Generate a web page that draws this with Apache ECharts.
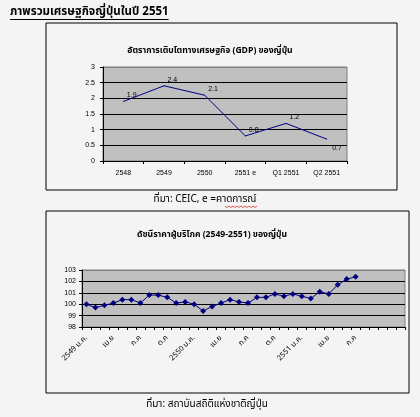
<!DOCTYPE html>
<html>
<head>
<meta charset="utf-8">
<script src="https://cdn.jsdelivr.net/npm/echarts@6/dist/echarts.min.js"></script>
<style>
html,body{margin:0;padding:0;background:#f4f4f4;}
#c{width:420px;height:417px;}
</style>
</head>
<body>
<div id="c"></div>
<script>
// ---- data ----
var mainTitle = 'ภาพรวมเศรษฐกิจญี่ปุ่นในปี 2551';
var gdpTitle = 'อัตราการเติบโตทางเศรษฐกิจ (GDP) ของญี่ปุ่น';
var gdpSource = 'ที่มา: CEIC, e =คาดการณ์';
var gdpCategories = ['2548', '2549', '2550', '2551 e', 'Q1 2551', 'Q2 2551'];
var gdpValues = [1.9, 2.4, 2.1, 0.8, 1.2, 0.7];
var cpiTitle = 'ดัชนีราคาผู้บริโภค (2549-2551) ของญี่ปุ่น';
var cpiSource = 'ที่มา: สถาบันสถิติแห่งชาติญี่ปุ่น';
var cpiYears = ['2549', '2550', '2551'];
var cpiMonths = ['ม.ค.', 'ก.พ.', 'มี.ค.', 'เม.ย', 'พ.ค.', 'มิ.ย.', 'ก.ค', 'ส.ค.', 'ก.ย.', 'ต.ค', 'พ.ย.', 'ธ.ค.'];
var cpiValues = [100.0, 99.7, 99.9, 100.1, 100.4, 100.4, 100.1, 100.8, 100.8, 100.6,
                 100.1, 100.2, 100.0, 99.4, 99.8, 100.1, 100.4, 100.2, 100.1, 100.6,
                 100.6, 100.9, 100.7, 100.9, 100.7, 100.5, 101.1, 100.9, 101.7, 102.2, 102.4];

var cpiCategories = [];
cpiYears.forEach(function (y) {
  cpiMonths.forEach(function (m, i) { cpiCategories.push(i === 0 ? y + ' ' + m : m); });
});

var thaiFont = 'Tahoma, "Noto Sans Thai", "Noto Sans", "DejaVu Sans", sans-serif';
var numFont = '"Liberation Sans", Arial, sans-serif';
var navy = '#000080';

var chart = echarts.init(document.getElementById('c'), null, {renderer: 'canvas'});

// underline width for main title
var cv = document.createElement('canvas').getContext('2d');
cv.font = 'bold 11.5px ' + thaiFont;
var mtW = cv.measureText(mainTitle).width;

// squiggle under "คาดการณ์"
var sq = [];
for (var k = 0; k <= 16; k++) sq.push([225 + k * 2, 206 + (k % 2 ? 1.5 : 0)]);

var axisLabelStyle = {color: '#000', fontSize: 7, fontFamily: numFont};

chart.setOption({
  backgroundColor: '#f4f4f4',
  animation: false,
  grid: [
    {left: 103, top: 67, width: 244, height: 94, show: true, backgroundColor: '#c0c0c0', borderColor: '#808080', borderWidth: 1},
    {left: 82, top: 270, width: 323, height: 57, show: true, backgroundColor: '#c0c0c0', borderColor: '#808080', borderWidth: 1}
  ],
  xAxis: [
    {
      gridIndex: 0, type: 'category', data: gdpCategories, boundaryGap: true,
      axisLine: {lineStyle: {color: '#000', width: 1}},
      axisTick: {show: true, length: 3, lineStyle: {color: '#000'}},
      axisLabel: Object.assign({margin: 9}, axisLabelStyle),
      splitLine: {show: false}
    },
    {
      gridIndex: 1, type: 'category', data: cpiCategories, boundaryGap: true,
      axisLine: {lineStyle: {color: '#000', width: 1}},
      axisTick: {show: true, length: 3, interval: 0, lineStyle: {color: '#000'}},
      axisLabel: Object.assign({
        rotate: 45, margin: 10,
        interval: function (i) { return i % 3 === 0 && i <= 30; }
      }, axisLabelStyle, {fontFamily: thaiFont, fontSize: 7.5}),
      splitLine: {show: false}
    }
  ],
  yAxis: [
    {
      gridIndex: 0, type: 'value', min: 0, max: 3, interval: 0.5,
      axisLine: {show: true, lineStyle: {color: '#000'}},
      axisTick: {show: true, length: 3, lineStyle: {color: '#000'}},
      axisLabel: Object.assign({margin: 8}, axisLabelStyle),
      splitLine: {show: true, lineStyle: {color: ['#000', '#000', '#000', '#000', '#000', '#000', '#808080'], width: 1}}
    },
    {
      gridIndex: 1, type: 'value', min: 98, max: 103, interval: 1,
      axisLine: {show: true, lineStyle: {color: '#000'}},
      axisTick: {show: true, length: 3, lineStyle: {color: '#000'}},
      axisLabel: Object.assign({margin: 6}, axisLabelStyle),
      splitLine: {show: true, lineStyle: {color: ['#000', '#000', '#000', '#000', '#000', '#808080'], width: 1}}
    }
  ],
  series: [
    {
      type: 'line', xAxisIndex: 0, yAxisIndex: 0,
      data: gdpValues.map(function (v, i) {
        return i === gdpValues.length - 1 ? {value: v, label: {offset: [2, 9]}} : v;
      }),
      symbol: 'circle', symbolSize: 1, showAllSymbol: true,
      itemStyle: {color: navy},
      lineStyle: {color: navy, width: 1},
      label: {show: true, position: 'right', distance: 3, offset: [0, -6], color: '#000', fontSize: 7, fontFamily: numFont}
    },
    {
      type: 'line', xAxisIndex: 1, yAxisIndex: 1,
      data: cpiValues,
      symbol: 'diamond', symbolSize: 6, showAllSymbol: true,
      itemStyle: {color: navy},
      lineStyle: {color: navy, width: 1}
    }
  ],
  graphic: [
    {type: 'rect', shape: {x: 46, y: 23, width: 351, height: 167}, style: {fill: null, stroke: '#000', lineWidth: 1}, silent: true},
    {type: 'rect', shape: {x: 46, y: 211, width: 363, height: 182}, style: {fill: null, stroke: '#000', lineWidth: 1}, silent: true},
    {type: 'text', x: 10, y: 13, style: {text: mainTitle, font: 'bold 11.5px ' + thaiFont, fill: '#000', textVerticalAlign: 'middle'}},
    {type: 'line', shape: {x1: 10, y1: 19.5, x2: 10 + mtW, y2: 19.5}, style: {stroke: '#000', lineWidth: 1}},
    {type: 'text', x: 210, y: 51, style: {text: gdpTitle, font: 'bold 8.6px ' + thaiFont, fill: '#000', textAlign: 'center', textVerticalAlign: 'middle'}},
    {type: 'text', x: 205, y: 200, style: {text: gdpSource, font: '10px ' + thaiFont, fill: '#000', textAlign: 'center', textVerticalAlign: 'middle'}},
    {type: 'polyline', shape: {points: sq}, style: {stroke: '#e03030', lineWidth: 0.8, fill: null}},
    {type: 'text', x: 212, y: 235, style: {text: cpiTitle, font: 'bold 8.6px ' + thaiFont, fill: '#000', textAlign: 'center', textVerticalAlign: 'middle'}},
    {type: 'text', x: 207, y: 405, style: {text: cpiSource, font: '10px ' + thaiFont, fill: '#000', textAlign: 'center', textVerticalAlign: 'middle'}}
  ]
});
</script>
</body>
</html>
